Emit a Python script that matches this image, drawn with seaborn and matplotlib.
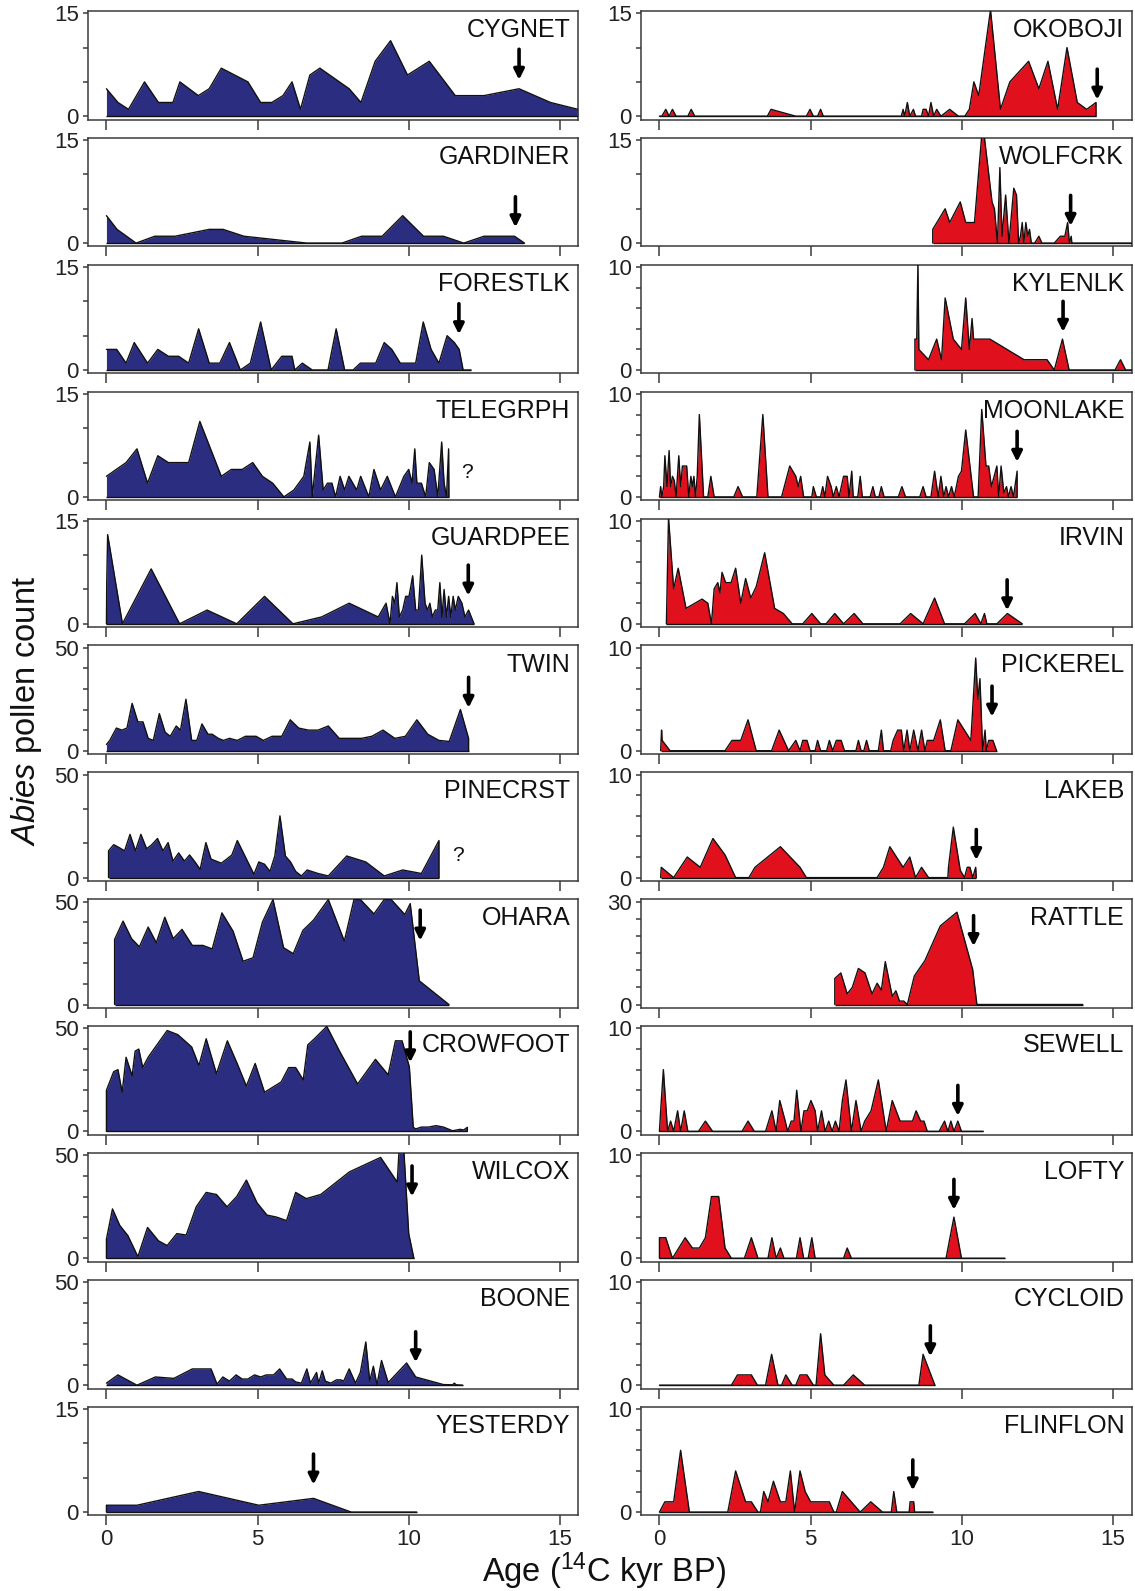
import numpy as np
import pandas as pd
import matplotlib
matplotlib.use("Agg")
import matplotlib.pyplot as plt
import seaborn as sns

# ---------------- data (ages in 14C kyr BP, Abies pollen counts) ----------------
cygnet_age = [0, 0.38, 0.73, 1.26, 1.72, 2.2, 2.43, 3.04, 3.4, 3.8, 4.68, 5.1, 5.47, 5.84, 6.14,
              6.42, 6.73, 7.06, 8.03, 8.42, 8.89, 9.4, 9.96, 10.68, 11.54, 12.49, 13.65, 14.69, 15.6]
cygnet_cnt = [4, 2, 1, 5, 2, 2, 5, 3, 4, 7, 5, 2, 2, 3, 5, 1, 6, 7, 4, 2, 8, 11, 6, 8, 3, 3, 4, 2, 1]

gardiner_age = [0, 0.35, 0.98, 1.6, 2.27, 3.4, 3.86, 4.55, 6.63, 7.79, 8.44, 9.12, 9.8, 10.49,
                11.15, 11.82, 12.49, 13.5, 13.83]
gardiner_cnt = [4, 2, 0, 1, 1, 2, 2, 1, 0, 0, 1, 1, 4, 1, 1, 0, 1, 1, 0]

forestlk_age = [0, 0.34, 0.65, 0.92, 1.36, 1.7, 2.05, 2.39, 2.72, 3.05,
                3.4, 3.75, 4.07, 4.43, 4.76, 5.1, 5.45, 5.8, 6.14, 6.23,
                6.48, 6.81, 7.33, 7.6, 7.88, 8.16, 8.4, 8.91, 9.19, 9.44,
                9.72, 10.23, 10.48, 10.74, 11.0, 11.27, 11.51, 11.67, 11.8, 12.06]
forestlk_cnt = [3, 3, 1, 4, 1, 3, 2, 2, 1, 6,
                1, 1, 4, 0, 1, 7, 0, 2, 2, 0,
                1, 0, 0, 6, 0, 0, 1, 1, 4, 3,
                1, 1, 7, 3, 1, 5, 4, 3, 0, 0]

telegrph_age = [0, 0.65, 1.01, 1.36, 1.7, 2.05, 2.72, 3.09, 3.8, 4.13,
                4.49, 4.84, 5.16, 5.5, 5.87, 6.2, 6.53, 6.73, 6.81, 6.9,
                7.02, 7.17, 7.31, 7.46, 7.58, 7.73, 7.88, 8.02, 8.28, 8.41,
                8.68, 8.85, 9.07, 9.29, 9.56, 9.84, 10.0, 10.11, 10.2, 10.27,
                10.42, 10.56, 10.68, 10.84, 10.96, 11.09, 11.17, 11.25, 11.32, 11.33]
telegrph_cnt = [3, 5, 7, 2, 6, 5, 5, 11, 3, 4,
                4, 5, 3, 2, 0, 1, 3, 8, 0, 4,
                9, 1, 2, 2, 0, 3, 1, 3, 1, 3,
                0, 4, 1, 3, 0, 3, 4, 2, 7, 2,
                2, 0, 5, 4, 0, 8, 2, 0, 7, 0]

guardpee_age = [0, 0.01, 0.04, 0.53, 1.48, 2.42, 3.33, 4.31, 5.23, 6.17,
                7.12, 8.03, 8.99, 9.25, 9.38, 9.46, 9.54, 9.61, 9.69, 9.8,
                9.9, 10.01, 10.13, 10.23, 10.32, 10.43, 10.54, 10.62, 10.7, 10.78,
                10.88, 10.96, 11.03, 11.1, 11.17, 11.25, 11.32, 11.39, 11.47, 11.54,
                11.64, 11.76, 11.86, 11.98, 12.16]
guardpee_cnt = [0, 6, 13, 0, 8, 0, 2, 0, 4, 0,
                1, 3, 1, 3, 0, 4, 3, 6, 1, 2,
                4, 4, 7, 2, 2, 10, 3, 2, 3, 1,
                2, 2, 6, 1, 5, 1, 4, 1, 4, 2,
                4, 3, 1, 2, 0]

twin_age = [0, 0.11, 0.33, 0.51, 0.68, 0.85, 1.04, 1.21, 1.38, 1.55,
            1.75, 1.94, 2.11, 2.31, 2.45, 2.63, 2.82, 2.99, 3.16, 3.36,
            3.5, 3.7, 3.87, 4.07, 4.33, 4.6, 4.95, 5.19, 5.48, 5.8,
            6.08, 6.36, 6.68, 7.0, 7.34, 7.7, 8.44, 8.78, 9.15, 9.54,
            9.89, 10.27, 10.63, 11.0, 11.34, 11.71, 11.98, 11.98]
twin_cnt = [3, 5, 11, 10, 11, 23, 14, 14, 6, 5,
            18, 9, 7, 12, 10, 25, 5, 5, 13, 8,
            8, 6, 5, 6, 5, 7, 7, 5, 7, 7,
            15, 11, 10, 10, 12, 6, 6, 7, 10, 6,
            7, 15, 8, 5, 4.5, 20, 6, 0]

pinecrst_age = [0.07, 0.07, 0.24, 0.43, 0.6, 0.78, 0.96, 1.14, 1.33, 1.5,
                1.69, 1.87, 2.04, 2.2, 2.39, 2.58, 2.75, 2.93, 3.1, 3.29,
                3.46, 3.8, 3.98, 4.15, 4.33, 4.88, 5.04, 5.23, 5.41, 5.57,
                5.74, 5.92, 6.09, 6.26, 6.45, 6.64, 7.0, 7.34, 7.95, 8.58,
                9.19, 9.8, 10.42, 11.0, 11.0]
pinecrst_cnt = [0, 13, 16, 14.5, 13, 21, 13, 21, 14, 16,
                19, 13, 17, 8, 12, 8, 11, 7.6, 4, 17,
                9, 7, 9, 11, 18, 1.6, 7.6, 6.5, 3, 10.5,
                30, 10.5, 7.6, 3, 0.8, 3.7, 2, 0.8, 10.5, 7.6,
                0.8, 3.7, 2, 18, 0]

ohara_age = [0.27, 0.27, 0.55, 0.83, 1.09, 1.38, 1.65, 1.93, 2.21, 2.5,
             2.84, 3.19, 3.5, 3.82, 4.19, 4.52, 4.85, 5.16, 5.51, 5.86,
             6.18, 6.5, 6.85, 7.34, 7.87, 8.19, 8.4, 8.85, 9.19, 9.42,
             9.87, 10.05, 10.35, 11.33]
ohara_cnt = [0, 31.6, 40.5, 32, 28, 37.6, 30, 42.4, 32, 36.5,
             28.7, 28.7, 27, 44.5, 35.6, 21, 22.7, 40, 51, 27.6,
             24.7, 36, 41, 51, 30.8, 51, 51, 44, 51, 51,
             43.7, 49, 11.5, 0]

crowfoot_age = [0, 0, 0.24, 0.38, 0.52, 0.65, 0.85, 0.95, 1.07, 1.2,
                1.38, 1.62, 2.01, 2.36, 2.82, 3.06, 3.3, 3.64, 4.0, 4.31,
                4.63, 4.92, 5.23, 5.78, 6.03, 6.26, 6.51, 6.66, 6.88, 7.29,
                7.71, 8.31, 8.9, 9.32, 9.56, 9.78, 10.02, 10.15, 10.23, 10.42,
                10.66, 10.9, 11.15, 11.45, 11.7, 11.82, 11.94, 11.94]
crowfoot_cnt = [0, 20, 29, 30, 19, 36, 27, 39, 40, 31,
                36, 41, 49, 47, 41, 32, 45, 28, 44, 33.5,
                22, 33, 19, 24, 31, 31, 25, 42, 45, 51,
                39, 23, 35, 27.5, 44, 44, 31.4, 2, 1.2, 2.1,
                2.1, 2.8, 2.1, 0.3, 1, 0.7, 2, 0]

wilcox_age = [0, 0, 0.2, 0.44, 0.71, 1.04, 1.36, 1.72, 2.01, 2.33,
              2.64, 2.97, 3.3, 3.64, 3.99, 4.31, 4.63, 4.98, 5.31, 5.63,
              5.96, 6.26, 6.61, 7.09, 8.04, 9.07, 9.62, 9.68, 9.84, 10.0, 10.17]
wilcox_cnt = [0, 9.3, 24, 16, 11, 0.8, 15, 8.5, 6.2, 12,
              11.3, 25, 32, 31, 25, 30, 38, 27, 21, 20,
              18.3, 32, 29, 31, 42, 49, 37, 52, 52, 12, 0]

boone_age = [0, 0.38, 1.01, 1.62, 2.23, 2.84, 3.46, 3.66, 3.85, 4.07,
             4.29, 4.49, 4.68, 4.9, 5.1, 5.29, 5.53, 5.73, 5.96, 6.14,
             6.26, 6.45, 6.63, 6.75, 6.95, 7.02, 7.14, 7.24, 7.42, 7.61,
             7.75, 7.85, 8.03, 8.24, 8.4, 8.58, 8.71, 8.83, 8.95, 9.1,
             9.32, 9.93, 10.23, 11.15, 11.45, 11.51, 11.57, 11.78]
boone_cnt = [1, 5, 0, 4, 3.3, 7.9, 7.9, 0.5, 4, 2,
             5, 3, 3, 5, 4, 5, 5, 7.9, 3, 3,
             1.6, 1, 7.9, 1, 6.2, 1, 7, 2, 1, 2.6,
             2.6, 2, 7.9, 1, 6.2, 21, 2, 9.2, 0.2, 12,
             1.3, 10.8, 4, 0.3, 0.2, 1, 0.2, 0]

yesterdy_age = [0, 0, 1.01, 3.05, 5.04, 6.85, 8.1, 10.26]
yesterdy_cnt = [0, 1, 1, 3, 1, 2, 0, 0]

okoboji_age = [0, 0.08, 0.21, 0.32, 0.43, 0.55, 0.94, 1.05, 1.17, 3.57,
               3.69, 4.51, 4.86, 4.98, 5.09, 5.23, 5.33, 5.42, 8.0, 8.06,
               8.11, 8.2, 8.28, 8.4, 8.47, 8.67, 8.72, 8.82, 8.9, 8.98,
               9.07, 9.17, 9.31, 9.6, 9.89, 10.1, 10.25, 10.4, 10.56, 10.95,
               11.28, 11.59, 12.21, 12.55, 12.85, 13.17, 13.48, 13.82, 14.13, 14.44, 14.44]
okoboji_cnt = [0, 0, 1, 0, 1, 0, 0, 1, 0, 0,
               1, 0, 0, 1, 0, 0, 1, 0, 0, 1,
               0, 2, 0, 1, 0, 0, 1, 1, 0, 2,
               0, 1, 0, 1, 0, 0, 1, 5, 3, 15.5,
               1, 5, 8, 4, 8, 1, 10, 2, 1, 2, 0]

wolfcrk_age = [9.04, 9.04, 9.45, 9.6, 9.95, 10.13, 10.42, 10.66, 10.74, 11.0,
               11.08, 11.18, 11.26, 11.33, 11.45, 11.56, 11.72, 11.81, 11.88, 11.94,
               12.0, 12.05, 12.12, 12.18, 12.24, 12.3, 12.41, 12.55, 12.65, 13.06,
               13.26, 13.41, 13.5, 13.56, 13.62, 13.64, 15.63]
wolfcrk_cnt = [0, 2, 5, 3, 6, 3, 3, 15.7, 15.7, 6,
               5, 0, 11, 1, 7, 0, 8, 7, 0, 1,
               3, 0, 3, 1, 2, 0, 0, 1, 0, 0,
               1, 1, 3, 0, 1, 0, 0]

kylenlk_age = [8.45, 8.45, 8.51, 8.55, 8.58, 8.9, 9.17, 9.33, 9.45, 9.72,
               9.99, 10.13, 10.25, 10.34, 10.39, 10.93, 12.06, 12.82, 13.06, 13.33,
               13.55, 15.07, 15.25, 15.42, 15.63]
kylenlk_cnt = [0, 3, 3, 10.5, 2, 1, 3, 1, 7, 3,
               2, 7, 2, 5, 3, 3, 1, 1, 0, 3,
               0, 0, 1, 0, 0]

moonlake_age = [0, 0.04, 0.08, 0.14, 0.18, 0.25, 0.32, 0.37, 0.43, 0.49,
                0.55, 0.64, 0.7, 0.76, 0.9, 0.97, 1.04, 1.09, 1.14, 1.19,
                1.25, 1.32, 1.46, 1.6, 1.7, 1.81, 2.46, 2.6, 2.75, 3.22,
                3.42, 3.59, 4.04, 4.31, 4.51, 4.59, 4.67, 4.77, 5.04, 5.09,
                5.19, 5.33, 5.4, 5.47, 5.56, 5.68, 5.75, 5.85, 5.94, 6.09,
                6.21, 6.27, 6.36, 6.41, 6.56, 6.64, 6.71, 6.97, 7.06, 7.14,
                7.26, 7.34, 7.43, 7.9, 8.02, 8.14, 8.61, 8.72, 8.82, 8.98,
                9.1, 9.22, 9.31, 9.4, 9.48, 9.56, 9.66, 9.75, 9.89, 9.99,
                10.13, 10.39, 10.54, 10.66, 10.8, 10.89, 10.98, 11.07, 11.16, 11.22,
                11.3, 11.39, 11.48, 11.54, 11.63, 11.71, 11.83, 11.83]
moonlake_cnt = [0, 1, 0, 1, 4, 1, 4.5, 1, 2, 1.6,
                0, 4, 1, 3, 3, 0, 2, 1, 2, 0,
                2, 8, 0, 0, 2, 0, 0, 1, 0, 0,
                8, 0, 0, 3, 2, 1, 2, 0, 0, 1,
                0, 0, 1, 0, 2, 1, 0, 1, 0, 2,
                2, 0, 2.5, 0, 0, 2, 0, 0, 1, 0,
                0, 1, 0, 0, 1, 0, 0, 1, 0, 0,
                2.5, 0, 2, 0, 1, 0, 1, 0, 2, 2.5,
                6.5, 0, 0, 8.5, 3, 3, 1, 2, 3, 0,
                3, 0.4, 1, 0, 1, 0, 2.5, 0]

irvin_age = [0.23, 0.3, 0.47, 0.62, 0.88, 1.41, 1.6, 1.72, 1.81, 1.93,
             2.0, 2.07, 2.19, 2.37, 2.52, 2.69, 2.85, 3.02, 3.2, 3.48,
             3.81, 4.1, 4.39, 4.74, 5.04, 5.33, 5.51, 5.8, 6.09, 6.44,
             6.73, 7.96, 8.31, 8.72, 9.1, 9.43, 10.09, 10.44, 10.63, 10.75,
             10.83, 11.16, 11.51, 12.0]
irvin_cnt = [0, 10.3, 3.4, 5.4, 1.5, 2.4, 2, 0, 3.4, 4,
             3, 5, 4, 4, 5.4, 2, 4.4, 2.5, 3.6, 6.9,
             1.5, 1, 0, 0, 1, 0, 0, 1, 0, 1,
             0, 0, 1, 0, 2.5, 0, 0, 1, 0, 1,
             0, 0, 1, 0]

pickerel_age = [0.04, 0.07, 0.09, 0.35, 2.17, 2.4, 2.69, 2.93, 3.2, 3.71,
                3.96, 4.27, 4.51, 4.65, 4.74, 4.88, 4.98, 5.15, 5.23, 5.33,
                5.53, 5.62, 5.73, 5.85, 6.01, 6.12, 6.5, 6.58, 6.67, 6.76,
                6.85, 6.94, 7.24, 7.34, 7.41, 7.65, 7.73, 7.88, 8.0, 8.08,
                8.19, 8.28, 8.41, 8.55, 8.67, 8.78, 8.86, 9.07, 9.29, 9.45,
                9.64, 9.87, 10.3, 10.46, 10.53, 10.6, 10.69, 10.77, 10.81, 10.89,
                11.03, 11.15]
pickerel_cnt = [0, 2, 1, 0, 0, 1, 1, 3, 0, 0,
                2, 0, 1, 0, 1, 1, 0, 0, 1, 0,
                0, 1, 0, 1, 1, 0, 0, 1, 0, 0,
                1, 0, 0, 2, 0, 0, 1, 2, 2, 0,
                2, 0, 2, 0, 2, 0, 1, 1, 3, 0,
                0, 3, 1, 9, 5, 7, 0, 2, 0, 1,
                1, 0]

lakeb_age = [0.04, 0.06, 0.47, 0.92, 1.35, 1.77, 2.17, 2.52, 2.96, 3.16,
             4.0, 4.65, 4.86, 7.2, 7.41, 7.62, 8.06, 8.28, 8.47, 8.67,
             8.9, 9.54, 9.56, 9.72, 9.95, 10.09, 10.18, 10.27, 10.36, 10.46, 10.48]
lakeb_cnt = [0, 1, 0, 2, 1, 3.8, 2.2, 0, 0, 1,
             3, 1, 0, 0, 1, 3, 1, 2, 0, 1,
             0, 0, 1, 4.9, 0.7, 0, 1, 1, 0, 1, 0]

rattle_age = [5.8, 5.8, 6.0, 6.21, 6.38, 6.58, 6.8, 7.03, 7.2, 7.34,
              7.47, 7.7, 7.82, 7.94, 8.08, 8.2, 8.43, 8.78, 9.29, 9.84,
              10.36, 10.5, 14.0]
rattle_cnt = [0, 7.6, 9.2, 3.1, 5, 10.5, 9.2, 3.1, 6.2, 4.2,
              12.5, 2.4, 4, 1, 1, 0, 8.3, 12.8, 22.9, 26.9,
              10.2, 0, 0]

sewell_age = [0, 0.04, 0.13, 0.27, 0.37, 0.47, 0.6, 0.7, 0.82, 0.94,
              1.29, 1.52, 1.76, 2.73, 2.93, 3.14, 3.51, 3.72, 3.86, 3.98,
              4.16, 4.24, 4.36, 4.45, 4.54, 4.68, 4.78, 4.89, 5.01, 5.15,
              5.23, 5.36, 5.48, 5.6, 5.71, 5.82, 5.94, 6.05, 6.17, 6.35,
              6.5, 6.67, 6.79, 7.0, 7.24, 7.5, 7.7, 7.96, 8.37, 8.49,
              8.64, 8.75, 8.86, 9.25, 9.43, 9.54, 9.64, 9.74, 9.87, 9.99,
              10.71]
sewell_cnt = [0, 2, 6, 0, 1, 0, 2, 0, 2, 0,
              0, 1, 0, 0, 1, 0, 0, 2, 0, 3,
              1, 0, 1, 1, 4, 0, 2, 2, 3, 2,
              0, 2, 0, 1, 0, 1, 0, 3, 5, 0,
              3, 0, 1, 2, 5, 0, 3, 1, 1, 2,
              1, 1, 0, 0, 1, 0, 1, 0, 1, 0,
              0]

lofty_age = [0, 0, 0.21, 0.43, 0.85, 1.09, 1.32, 1.52, 1.72, 1.96,
             2.17, 2.38, 2.81, 3.04, 3.26, 3.59, 3.72, 3.86, 4.0, 4.12,
             4.53, 4.65, 4.77, 4.92, 5.04, 5.15, 6.09, 6.21, 6.35, 9.48,
             9.74, 9.99, 11.42]
lofty_cnt = [0, 2, 2, 0, 2, 1, 1, 2, 6, 6,
             1, 0, 0, 2, 0, 0, 2, 0, 1, 0,
             0, 2, 0, 0, 2, 0, 0, 1, 0, 0,
             4, 0, 0]

cycloid_age = [0, 2.38, 2.58, 3.04, 3.24, 3.51, 3.71, 3.92, 4.04, 4.18,
               4.39, 4.51, 4.65, 4.88, 5.09, 5.18, 5.33, 5.47, 5.77, 6.09,
               6.41, 6.79, 8.58, 8.72, 9.11]
cycloid_cnt = [0, 0, 1, 1, 0, 0, 3, 0, 0, 1,
               0, 0, 1, 1, 0, 0, 5, 1, 0, 0,
               1, 0, 0, 3, 0]

flinflon_age = [0, 0.18, 0.47, 0.7, 0.99, 2.26, 2.52, 2.85, 3.04, 3.26,
                3.34, 3.45, 3.59, 3.77, 4.0, 4.18, 4.33, 4.47, 4.65, 4.82,
                5.0, 5.62, 5.77, 5.85, 6.05, 6.64, 6.99, 7.38, 7.67, 7.75,
                7.85, 8.26, 8.29, 8.41, 8.44, 9.04]
flinflon_cnt = [0, 1, 1, 6, 0, 0, 4, 1, 1, 0,
                0, 2, 1, 3, 1, 1, 4, 0, 4, 2,
                1, 1, 0, 0, 2, 0, 1, 0, 0, 2,
                0, 0, 1, 1, 0, 0]

left_names = ["CYGNET", "GARDINER", "FORESTLK", "TELEGRPH", "GUARDPEE", "TWIN",
              "PINECRST", "OHARA", "CROWFOOT", "WILCOX", "BOONE", "YESTERDY"]
right_names = ["OKOBOJI", "WOLFCRK", "KYLENLK", "MOONLAKE", "IRVIN", "PICKEREL",
               "LAKEB", "RATTLE", "SEWELL", "LOFTY", "CYCLOID", "FLINFLON"]
left_ymax = [15, 15, 15, 15, 15, 50, 50, 50, 50, 50, 50, 15]
left_nint = [3, 3, 3, 3, 3, 5, 3, 5, 5, 5, 5, 3]
right_ymax = [15, 15, 10, 10, 10, 10, 10, 30, 10, 10, 10, 10]
right_nint = [3, 3, 5, 5, 5, 5, 5, 6, 5, 5, 5, 5]
left_arrow_x = [13.65, 13.53, 11.66, None, 11.97, 11.98, None, 10.38, 10.05, 10.11, 10.23, 6.85]
left_arrow_tip = [5.3, 2.3, 5.2, None, 4.1, 20.8, None, 31, 33.5, 30, 11.1, 4]
right_arrow_x = [14.48, 13.6, 13.35, 11.83, 11.5, 11.0, 10.48, 10.39, 9.87, 9.74, 8.96, 8.38]
right_arrow_tip = [2.4, 2.5, 3.7, 3.4, 1.3, 3.3, 1.7, 17, 1.5, 4.7, 2.8, 2.1]
query_x = {"TELEGRPH": 11.73, "PINECRST": 11.45}
query_y = {"TELEGRPH": 3.5, "PINECRST": 10.5}
age_ticks = [0, 5, 10, 15]

left_series = [(cygnet_age, cygnet_cnt), (gardiner_age, gardiner_cnt), (forestlk_age, forestlk_cnt),
               (telegrph_age, telegrph_cnt), (guardpee_age, guardpee_cnt), (twin_age, twin_cnt),
               (pinecrst_age, pinecrst_cnt), (ohara_age, ohara_cnt), (crowfoot_age, crowfoot_cnt),
               (wilcox_age, wilcox_cnt), (boone_age, boone_cnt), (yesterdy_age, yesterdy_cnt)]
right_series = [(okoboji_age, okoboji_cnt), (wolfcrk_age, wolfcrk_cnt), (kylenlk_age, kylenlk_cnt),
                (moonlake_age, moonlake_cnt), (irvin_age, irvin_cnt), (pickerel_age, pickerel_cnt),
                (lakeb_age, lakeb_cnt), (rattle_age, rattle_cnt), (sewell_age, sewell_cnt),
                (lofty_age, lofty_cnt), (cycloid_age, cycloid_cnt), (flinflon_age, flinflon_cnt)]

# ---------------- styling ----------------
sns.set_style("ticks")
plt.rcParams["font.family"] = ["Liberation Sans", "DejaVu Sans"]
plt.rcParams["mathtext.fontset"] = "custom"
plt.rcParams["mathtext.rm"] = "Liberation Sans"
plt.rcParams["mathtext.it"] = "Liberation Sans:italic"

NAVY = "#2a2d80"
RED = "#e1101d"
SPINE = "#3a3a3a"

W, H = 1135, 1591
fig = plt.figure(figsize=(W / 100, H / 100), dpi=100)

col_x = [(88, 578, (-0.61, 15.6)), (641, 1132, (-0.61, 15.63))]
row_top0, row_pitch, box_h = 11, 126.9, 108.5


def draw_panel(ax, name, age, cnt, ymax, nint, ax_x, ax_tip, color, bottom, xlim):
    df = pd.DataFrame({"age": age, "count": cnt})
    ax.fill_between(df["age"], df["count"], 0, color=color, lw=0, zorder=2)
    ax.hlines(0, df["age"].min(), df["age"].max(), color="#111111", lw=1.0, zorder=3)
    sns.lineplot(data=df, x="age", y="count", ax=ax, estimator=None, sort=False,
                 color="#111111", lw=1.0, zorder=3)
    ax.set_xlim(*xlim)
    ax.set_ylim(-0.032 * ymax, 1.022 * ymax)
    ax.set_xticks(age_ticks)
    yt = np.linspace(0, ymax, nint + 1)
    ax.set_yticks(yt)
    ax.set_yticklabels(["0"] + [""] * (nint - 1) + [str(ymax)])
    ax.set_xlabel("")
    ax.set_ylabel("")
    ax.tick_params(axis="x", direction="out", length=7, width=1.1, color=SPINE,
                   labelbottom=bottom, labelsize=16, pad=3, labelcolor="#222222")
    ax.tick_params(axis="y", direction="out", length=3.5, width=1.1, color=SPINE,
                   labelsize=16, pad=3, labelcolor="#222222")
    for s in ax.spines.values():
        s.set_visible(True)
        s.set_color(SPINE)
        s.set_linewidth(1.1)
    ax.text(0.984, 0.935, name, transform=ax.transAxes, ha="right", va="top",
            fontsize=18, color="#111111", zorder=5)
    if ax_x is not None:
        ax.annotate("", xy=(ax_x, ax_tip), xytext=(0, 22), textcoords="offset points",
                    arrowprops=dict(arrowstyle="-|>", color="black", lw=2.6,
                                    mutation_scale=15, shrinkA=0, shrinkB=0), zorder=6)
    if name in query_x:
        ax.text(query_x[name], query_y[name], "?", fontsize=15, ha="left", va="center",
                color="#111111")


for c, (names, series, ymaxs, nints, axx, axt, color) in enumerate([
        (left_names, left_series, left_ymax, left_nint, left_arrow_x, left_arrow_tip, NAVY),
        (right_names, right_series, right_ymax, right_nint, right_arrow_x, right_arrow_tip, RED)]):
    x0, x1, xlim = col_x[c]
    for r in range(12):
        top = row_top0 + r * row_pitch
        rect = [x0 / W, 1 - (top + box_h) / H, (x1 - x0) / W, box_h / H]
        ax = fig.add_axes(rect)
        age, cnt = series[r]
        draw_panel(ax, names[r], age, cnt, ymaxs[r], nints[r], axx[r], axt[r], color,
                   r == 11, xlim)

fig.text(604.5 / W, 1 - 1582 / H, r"Age ($^{14}$C kyr BP)", ha="center", va="baseline",
         fontsize=23.5, color="#111111")
fig.text(27 / W, 1 - 711 / H, r"$\mathit{Abies}$ pollen count", rotation=90,
         ha="center", va="center", fontsize=23.5, color="#111111")

fig.savefig("out.png", dpi=100)
